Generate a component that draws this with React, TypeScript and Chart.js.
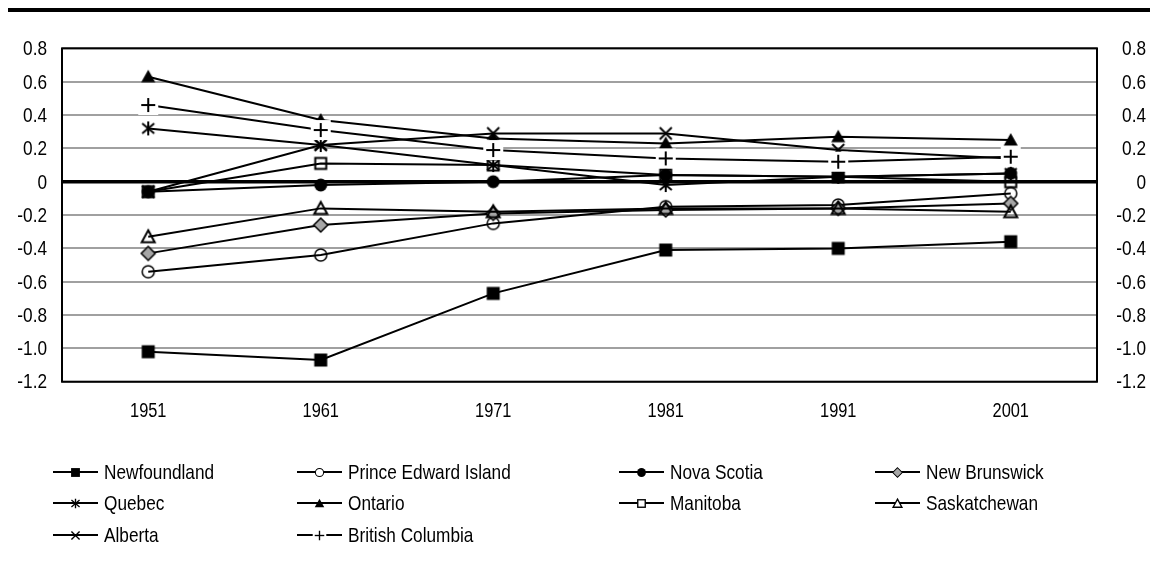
import React, { useEffect, useRef } from 'react';
import { Chart, registerables } from 'chart.js';

Chart.register(...registerables);

const years = ['1951', '1961', '1971', '1981', '1991', '2001'];

const newfoundland = [-1.02, -1.07, -0.67, -0.41, -0.40, -0.36];
const princeEdwardIsland = [-0.54, -0.44, -0.25, -0.15, -0.14, -0.07];
const novaScotia = [-0.06, -0.02, 0.0, 0.04, 0.03, 0.05];
const newBrunswick = [-0.43, -0.26, -0.19, -0.17, -0.16, -0.13];
const quebec = [0.32, 0.22, 0.10, -0.02, 0.03, 0.05];
const ontario = [0.63, 0.37, 0.26, 0.23, 0.27, 0.25];
const manitoba = [-0.06, 0.11, 0.10, 0.04, 0.03, 0.0];
const saskatchewan = [-0.33, -0.16, -0.18, -0.16, -0.16, -0.18];
const alberta = [-0.06, 0.22, 0.29, 0.29, 0.19, 0.14];
const britishColumbia = [0.46, 0.31, 0.19, 0.14, 0.12, 0.15];

const yMin = -1.2;
const yMax = 0.8;
const yStep = 0.2;

const seriesNames = [
  'Newfoundland', 'Prince Edward Island', 'Nova Scotia', 'New Brunswick',
  'Quebec', 'Ontario', 'Manitoba', 'Saskatchewan', 'Alberta', 'British Columbia',
];
const seriesValues = [
  newfoundland, princeEdwardIsland, novaScotia, newBrunswick,
  quebec, ontario, manitoba, saskatchewan, alberta, britishColumbia,
];
const seriesMarkers = [
  'filledSquare', 'openCircle', 'filledCircle', 'diamond',
  'asterisk', 'filledTriangle', 'openSquare', 'openTriangle', 'x', 'plus',
];

const FONT = "'Liberation Sans', Arial, sans-serif";
const CONDENSE = 0.82;

function makeMarker(kind: string, s: number, openFill: string | null): HTMLCanvasElement {
  const size = Math.ceil(24 * s);
  const c = document.createElement('canvas');
  c.width = size;
  c.height = size;
  const g = c.getContext('2d')!;
  g.translate(size / 2, size / 2);
  g.scale(s, s);
  g.strokeStyle = '#000';
  g.fillStyle = '#000';
  g.lineWidth = 1.5;
  const line = (x1: number, y1: number, x2: number, y2: number) => {
    g.beginPath();
    g.moveTo(x1, y1);
    g.lineTo(x2, y2);
    g.stroke();
  };
  switch (kind) {
    case 'filledSquare':
      g.fillRect(-6.5, -6.5, 13, 13);
      break;
    case 'openCircle':
      g.beginPath();
      g.arc(0, 0, 6, 0, Math.PI * 2);
      if (openFill) {
        g.fillStyle = openFill;
        g.fill();
      }
      g.stroke();
      break;
    case 'filledCircle':
      g.beginPath();
      g.arc(0, 0, 6.5, 0, Math.PI * 2);
      g.fill();
      break;
    case 'diamond':
      g.beginPath();
      g.moveTo(0, -7);
      g.lineTo(7, 0);
      g.lineTo(0, 7);
      g.lineTo(-7, 0);
      g.closePath();
      g.fillStyle = '#a6a6a6';
      g.fill();
      g.stroke();
      break;
    case 'asterisk':
      g.lineWidth = 2;
      line(0, -7, 0, 7);
      line(-6, -5, 6, 5);
      line(-6, 5, 6, -5);
      break;
    case 'filledTriangle':
      g.beginPath();
      g.moveTo(0, -7);
      g.lineTo(7, 5.5);
      g.lineTo(-7, 5.5);
      g.closePath();
      g.fill();
      break;
    case 'openSquare':
      if (openFill) {
        g.fillStyle = openFill;
        g.fillRect(-5.5, -5.5, 11, 11);
      }
      g.lineWidth = 2;
      g.strokeRect(-5.5, -5.5, 11, 11);
      break;
    case 'openTriangle':
      g.lineWidth = 2;
      g.beginPath();
      g.moveTo(0, -6.5);
      g.lineTo(6.5, 5.5);
      g.lineTo(-6.5, 5.5);
      g.closePath();
      if (openFill) {
        g.fillStyle = openFill;
        g.fill();
      }
      g.stroke();
      break;
    case 'x':
      g.lineWidth = 2;
      line(-6, -6, 6, 6);
      line(-6, 6, 6, -6);
      break;
    case 'plus':
      g.fillStyle = '#fff';
      g.fillRect(-10, -10, 20, 20);
      g.lineWidth = 2;
      line(-7, 0, 7, 0);
      line(0, -7, 0, 7);
      break;
  }
  return c;
}

const isZero = (v: number) => Math.abs(v) < 1e-9;
const fmt = (v: number) => (isZero(v) ? '0' : v.toFixed(1));

function drawText(ctx: CanvasRenderingContext2D, text: string, x: number, y: number, size: number, align: CanvasTextAlign) {
  ctx.save();
  ctx.translate(x, y);
  ctx.scale(CONDENSE, 1);
  ctx.font = `${size}px ${FONT}`;
  ctx.textAlign = align;
  ctx.textBaseline = 'middle';
  ctx.fillStyle = '#000';
  ctx.fillText(text, 0, 0);
  ctx.restore();
}

export default function App() {
  const ref = useRef<HTMLCanvasElement | null>(null);

  useEffect(() => {
    const canvas = ref.current;
    if (!canvas) return;

    const plotMarkers = seriesMarkers.map((k) => makeMarker(k, 1, null));
    const legendMarkers = seriesMarkers.map((k) => makeMarker(k, 0.68, '#fff'));

    const legendCols = [53, 297, 619, 875];
    const legendRows = [472, 503, 535];

    const framePlugin = {
      id: 'frame',
      beforeDatasetsDraw(chart: any) {
        const { ctx, chartArea: a } = chart;
        ctx.save();
        ctx.strokeStyle = '#000';
        ctx.lineWidth = 2;
        ctx.strokeRect(a.left, a.top, a.right - a.left, a.bottom - a.top);
        ctx.restore();
      },
      afterDraw(chart: any) {
        const ctx = chart.ctx as CanvasRenderingContext2D;
        ctx.save();
        ctx.fillStyle = '#000';
        ctx.fillRect(8, 8, 1142, 4);

        const ys = chart.scales.y;
        ys.ticks.forEach((t: any) => {
          const py = ys.getPixelForValue(t.value);
          drawText(ctx, fmt(t.value), 47, py + 1, 21, 'right');
          drawText(ctx, fmt(t.value), 1146, py + 1, 21, 'right');
        });
        const xs = chart.scales.x;
        (chart.data.labels as string[]).forEach((lab, i) => {
          drawText(ctx, lab, xs.getPixelForTick(i), 411, 20, 'center');
        });

        chart.data.datasets.forEach((ds: any, i: number) => {
          const col = i % 4;
          const row = Math.floor(i / 4);
          const x0 = legendCols[col];
          const y = legendRows[row];
          ctx.strokeStyle = '#000';
          ctx.lineWidth = 2;
          ctx.beginPath();
          ctx.moveTo(x0, y);
          ctx.lineTo(x0 + 45, y);
          ctx.stroke();
          const img = legendMarkers[i];
          ctx.drawImage(img, Math.round(x0 + 22.5 - img.width / 2), Math.round(y - img.height / 2));
          drawText(ctx, ds.label, x0 + 51, y + 1, 21, 'left');
        });
        ctx.restore();
      },
    };

    const n = seriesNames.length;
    const chart = new Chart(canvas, {
      type: 'line',
      data: {
        labels: years,
        datasets: seriesNames.map((name, i) => ({
          label: name,
          data: seriesValues[i],
          borderColor: '#000',
          backgroundColor: '#000',
          borderWidth: 2,
          pointStyle: plotMarkers[i] as any,
          pointRadius: 6,
          pointHoverRadius: 6,
          tension: 0,
          fill: false,
          order: n - 1 - i,
        })),
      },
      options: {
        responsive: false,
        animation: false,
        events: [],
        layout: { padding: { left: 0, right: 4, top: 48.4, bottom: 141.3 } },
        plugins: {
          legend: { display: false },
          tooltip: { enabled: false },
          title: { display: false },
        },
        scales: {
          x: {
            offset: true,
            grid: { display: false, drawTicks: false },
            border: { display: false },
            ticks: { display: false },
            afterFit: (scale: any) => { scale.height = 50; },
          },
          y: {
            position: 'left',
            min: yMin,
            max: yMax,
            border: { display: false },
            grid: {
              drawTicks: false,
              color: (c: any) => (c.tick && isZero(c.tick.value) ? '#000' : '#a0a0a0'),
              lineWidth: (c: any) => (c.tick && isZero(c.tick.value) ? 3.5 : 2),
            },
            ticks: { stepSize: yStep, display: false },
            afterFit: (scale: any) => { scale.width = 62; },
          },
          y2: {
            position: 'right',
            min: yMin,
            max: yMax,
            border: { display: false },
            grid: { display: false, drawTicks: false },
            ticks: { stepSize: yStep, display: false },
            afterFit: (scale: any) => { scale.width = 49; },
          },
        },
      },
      plugins: [framePlugin],
    });

    return () => chart.destroy();
  }, []);

  return (
    <div style={{ position: 'absolute', left: 0, top: 0, width: 1150, height: 573, background: '#fff' }}>
      <canvas ref={ref} width={1150} height={573} style={{ display: 'block', width: 1150, height: 573 }} />
    </div>
  );
}
